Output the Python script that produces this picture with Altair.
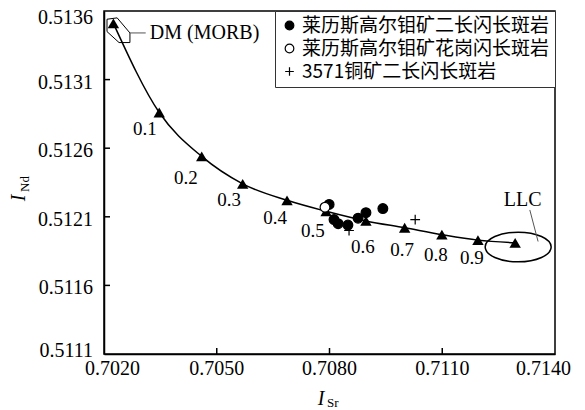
import altair as alt
import pandas as pd

# ---------------- data ----------------
# DM -> LLC mixing curve nodes
mix_name = ["DM", "0.1", "0.2", "0.3", "0.4", "0.5", "0.6", "0.7", "0.8", "0.9", "LLC"]
mix_sr = [0.70225, 0.70347, 0.70460, 0.70569, 0.70687, 0.70791, 0.70897, 0.71000, 0.71099, 0.71195, 0.71294]
mix_nd = [0.51351, 0.51286, 0.51254, 0.51234, 0.51222, 0.51214, 0.51207, 0.51202, 0.51197, 0.51193, 0.51191]

# mixing-fraction labels (anchor positions in data units)
frac_text = ["0.1", "0.2", "0.3", "0.4", "0.5", "0.6", "0.7", "0.8", "0.9"]
frac_sr = [0.70309, 0.70418, 0.70533, 0.70655, 0.70756, 0.70889, 0.70993, 0.71083, 0.71179]
frac_nd = [0.51274, 0.51238, 0.51222, 0.51209, 0.51200, 0.51188, 0.51186, 0.51182, 0.51180]

# samples
groups = ["莱历斯高尔钼矿二长闪长斑岩", "莱历斯高尔钼矿花岗闪长斑岩", "3571铜矿二长闪长斑岩"]
g1_sr = [0.70799, 0.70812, 0.70823, 0.70849, 0.70876, 0.70897, 0.70942]
g1_nd = [0.51219, 0.51208, 0.51205, 0.51204, 0.51209, 0.51213, 0.51216]
g2_sr = [0.70788]
g2_nd = [0.51217]
g3_sr = [0.70852, 0.71028]
g3_nd = [0.51200, 0.51208]

# DM (MORB) field outline
dm_sr = [0.70208, 0.70235, 0.70269, 0.70269, 0.70240, 0.70208, 0.70208]
dm_nd = [0.51354, 0.51355, 0.51344, 0.51337, 0.51337, 0.51345, 0.51354]

# LLC field (ellipse centre)
llc_sr = [0.71302]
llc_nd = [0.51188]

# leader lines: sr1, nd1, sr2, nd2
lead_sr1 = [0.70269, 0.71333]
lead_nd1 = [0.51344, 0.51215]
lead_sr2 = [0.70311, 0.71355]
lead_nd2 = [0.51344, 0.51192]

# annotation texts
dm_label = ["DM (MORB)"]
dm_label_sr = [0.70322]
dm_label_nd = [0.51344]
llc_label = ["LLC"]
llc_label_sr = [0.71314]
llc_label_nd = [0.51222]

x_ticks = [0.7020, 0.7050, 0.7080, 0.7110, 0.7140]
y_ticks = [0.5111, 0.5116, 0.5121, 0.5126, 0.5131, 0.5136]
x_tick_text = ["0.7020", "0.7050", "0.7080", "0.7110", "0.7140"]
y_tick_text = ["0.5111", "0.5116", "0.5121", "0.5126", "0.5131", "0.5136"]

# ---------------- frames ----------------
mix_df = pd.DataFrame({"name": mix_name, "sr": mix_sr, "nd": mix_nd, "i": range(len(mix_name))})
frac_df = pd.DataFrame({"t": frac_text, "sr": frac_sr, "nd": frac_nd})
samp_df = pd.concat([
    pd.DataFrame({"g": groups[0], "sr": g1_sr, "nd": g1_nd}),
    pd.DataFrame({"g": groups[1], "sr": g2_sr, "nd": g2_nd}),
    pd.DataFrame({"g": groups[2], "sr": g3_sr, "nd": g3_nd}),
], ignore_index=True)
dm_df = pd.DataFrame({"sr": dm_sr, "nd": dm_nd, "i": range(len(dm_sr))})
llc_df = pd.DataFrame({"sr": llc_sr, "nd": llc_nd})
lead_df = pd.DataFrame({"sr": lead_sr1, "nd": lead_nd1, "sr2": lead_sr2, "nd2": lead_nd2})
dmt_df = pd.DataFrame({"t": dm_label, "sr": dm_label_sr, "nd": dm_label_nd})
llct_df = pd.DataFrame({"t": llc_label, "sr": llc_label_sr, "nd": llc_label_nd})
xt_df = pd.DataFrame({"v": x_ticks[1:-1]})
yt_df = pd.DataFrame({"v": y_ticks[1:-1]})
xl_df = pd.DataFrame({"v": x_ticks, "t": x_tick_text})
yl_df = pd.DataFrame({"v": y_ticks, "t": y_tick_text})

W, H = 451, 343
SERIF = "Liberation Serif"

xscale = alt.Scale(domain=[x_ticks[0], x_ticks[-1]], nice=False, zero=False)
yscale = alt.Scale(domain=[y_ticks[0], y_ticks[-1]], nice=False, zero=False)
xaxis = alt.Axis(values=x_ticks, title=None, ticks=False, tickSize=0, labels=False, grid=False)
yaxis = alt.Axis(values=y_ticks, title=None, ticks=False, tickSize=0, labels=False, grid=False)


def X(f="sr"):
    return alt.X(f"{f}:Q", scale=xscale, axis=xaxis)


def Y(f="nd"):
    return alt.Y(f"{f}:Q", scale=yscale, axis=yaxis)


curve = alt.Chart(mix_df).mark_line(color="black", strokeWidth=1.5, interpolate="monotone").encode(
    x=X(), y=Y(), order="i:Q")
tri = alt.Chart(mix_df).mark_point(shape="triangle-up", filled=True, color="black", size=130, opacity=1).encode(
    x=X(), y=Y())
frac = alt.Chart(frac_df).mark_text(font=SERIF, fontSize=19, color="black").encode(
    x=X(), y=Y(), text="t:N")

legend = alt.Legend(title=None, orient="top-right", offset=0, strokeColor="#333", fillColor="white",
                    padding=5, labelFont="Noto Sans CJK SC", labelFontSize=19, labelColor="black",
                    symbolSize=75, symbolStrokeWidth=1.2, labelOffset=3,
                    rowPadding=3, labelLimit=400)
samp = alt.Chart(samp_df).mark_point(filled=True, strokeWidth=1.2, size=95, opacity=1).encode(
    x=X(), y=Y(),
    shape=alt.Shape("g:N", scale=alt.Scale(domain=groups, range=["circle", "circle", "M-1,0L1,0M0,-1L0,1"]),
                    legend=legend),
    fill=alt.Fill("g:N", scale=alt.Scale(domain=groups, range=["black", "white", "transparent"]),
                  legend=legend),
    stroke=alt.Stroke("g:N", scale=alt.Scale(domain=groups, range=["black", "black", "black"]),
                      legend=legend),
)

dm_field = alt.Chart(dm_df).mark_line(color="black", strokeWidth=1).encode(x=X(), y=Y(), order="i:Q")
llc_field = alt.Chart(llc_df).mark_point(
    shape="M-1,0A1,0.45,0,1,0,1,0A1,0.45,0,1,0,-1,0Z", size=4356, filled=False,
    color="black", strokeWidth=1.5, opacity=1).encode(x=X(), y=Y())
leads = alt.Chart(lead_df).mark_rule(color="#555", strokeWidth=1).encode(
    x=X(), y=Y(), x2="sr2:Q", y2="nd2:Q")
dmt = alt.Chart(dmt_df).mark_text(font=SERIF, fontSize=20, color="black", baseline="middle", align="left").encode(
    x=X(), y=Y(), text="t:N")
llct = alt.Chart(llct_df).mark_text(font=SERIF, fontSize=20, color="black", baseline="middle", align="center").encode(
    x=X(), y=Y(), text="t:N")

# inward ticks
xt = alt.Chart(xt_df).mark_rule(color="black", strokeWidth=1.5).encode(
    x=X("v"), y=alt.value(H), y2=alt.value(H - 6))
yt = alt.Chart(yt_df).mark_rule(color="black", strokeWidth=1.5).encode(
    y=Y("v"), x=alt.value(0), x2=alt.value(6))

# tick labels
lab = dict(font=SERIF, fontSize=20, color="black", baseline="alphabetic")
xl_mid = alt.Chart(xl_df).transform_filter(f"datum.v > {x_ticks[0]} && datum.v < {x_ticks[-1]}").mark_text(
    align="center", **lab).encode(x=X("v"), y=alt.value(H + 21), text="t:N")
xl_first = alt.Chart(xl_df).transform_filter(f"datum.v <= {x_ticks[0]}").mark_text(
    align="left", dx=-19, **lab).encode(x=X("v"), y=alt.value(H + 21), text="t:N")
xl_last = alt.Chart(xl_df).transform_filter(f"datum.v >= {x_ticks[-1]}").mark_text(
    align="right", dx=16, **lab).encode(x=X("v"), y=alt.value(H + 21), text="t:N")
yl_mid = alt.Chart(yl_df).transform_filter(f"datum.v > {y_ticks[0]} && datum.v < {y_ticks[-1]}").mark_text(
    align="right", dy=9, **lab).encode(y=Y("v"), x=alt.value(-11), text="t:N")
yl_top = alt.Chart(yl_df).transform_filter(f"datum.v >= {y_ticks[-1]}").mark_text(
    align="right", dy=13, **lab).encode(y=Y("v"), x=alt.value(-11), text="t:N")
yl_bot = alt.Chart(yl_df).transform_filter(f"datum.v <= {y_ticks[0]}").mark_text(
    align="right", dy=3, **lab).encode(y=Y("v"), x=alt.value(-11), text="t:N")

# axis titles  (I_Sr, I_Nd)
ttl_df = pd.DataFrame({"d": [0]})
xI = alt.Chart(ttl_df).mark_text(font=SERIF, fontSize=20, fontStyle="italic", color="black",
                                 baseline="alphabetic", align="center").encode(
    x=alt.value(217), y=alt.value(394), text=alt.value("I"))
xS = alt.Chart(ttl_df).mark_text(font=SERIF, fontSize=13, color="black",
                                 baseline="alphabetic", align="left").encode(
    x=alt.value(223), y=alt.value(396), text=alt.value("Sr"))
yI = alt.Chart(ttl_df).mark_text(font=SERIF, fontSize=20, fontStyle="italic", color="black",
                                 baseline="alphabetic", align="center", angle=270).encode(
    x=alt.value(-79), y=alt.value(187), text=alt.value("I"))
yS = alt.Chart(ttl_df).mark_text(font=SERIF, fontSize=13, color="black",
                                 baseline="alphabetic", align="left", angle=270).encode(
    x=alt.value(-75), y=alt.value(181), text=alt.value("Nd"))

chart = alt.layer(
    curve, tri, frac, dm_field, llc_field, leads, dmt, llct, samp, xt, yt,
    xl_mid, xl_first, xl_last, yl_mid, yl_top, yl_bot, xI, xS, yI, yS
).properties(
    width=W, height=H,
    padding={"left": 96, "top": 3, "right": 22, "bottom": 56},
    autosize=alt.AutoSizeParams(type="none"),
).configure_view(stroke="black", strokeWidth=1.5).configure_axis(
    domainColor="black", domainWidth=1.5
)

chart.save("out.html", embed_options={"renderer": "svg", "actions": False})
